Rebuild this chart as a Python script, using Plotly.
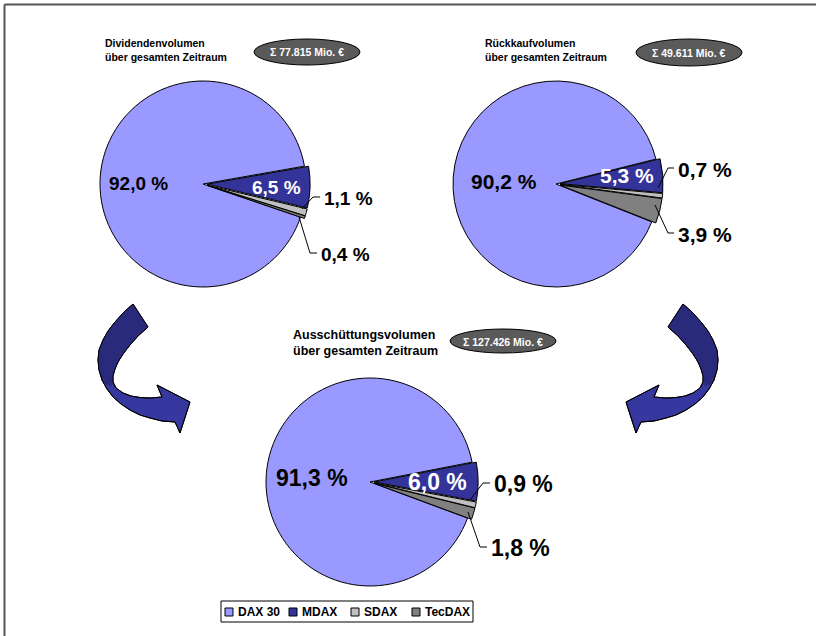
import plotly.graph_objects as go

W, H = 816, 636

# Daten
labels = ["DAX 30", "MDAX", "SDAX", "TecDAX"]
colors = ["#9999FF", "#333399", "#C0C0C0", "#808080"]
dividenden = [92.0, 6.5, 1.1, 0.4]
rueckkauf = [90.2, 5.3, 0.7, 3.9]
ausschuettung = [91.3, 6.0, 0.9, 1.8]
summen = [77815, 49611, 127426]
titel = ["Dividendenvolumen", "Rückkaufvolumen", "Ausschüttungsvolumen"]


def px(x):
    return x / W


def py(y):
    return 1 - y / H


def fmt_pct(v):
    return f"{v:.1f} %".replace(".", ",")


def fmt_sum(v):
    return "Σ " + f"{v:,}".replace(",", ".") + " Mio. €"


PULL = 0.04
# (werte, mittelpunkt x, y, radius, winkel oberkante kleine segmente)
pies = [
    (dividenden, 203, 184, 103, 10),
    (rueckkauf, 556, 184, 103, 14),
    (ausschuettung, 370, 482, 104, 11),
]

fig = go.Figure()
for werte, cx, cy, r, top in pies:
    half = r * (1 + PULL)
    p = werte[0] / sum(werte)
    rot = (90 - top - 360 * p) % 360
    fig.add_trace(go.Pie(
        labels=labels, values=werte, sort=False, direction="clockwise",
        rotation=rot, pull=[0, PULL, PULL, PULL],
        marker=dict(colors=colors, line=dict(color="black", width=1)),
        textinfo="none", hoverinfo="label+percent", showlegend=False,
        domain=dict(x=[px(cx - half), px(cx + half)], y=[py(cy + half), py(cy - half)]),
    ))

annos = []
shapes = []


def text(x, y, s, size, color="black", anchor="center", align="center"):
    annos.append(dict(x=px(x), y=py(y), xref="paper", yref="paper", text=s,
                      showarrow=False, xanchor=anchor, yanchor="middle", align=align,
                      font=dict(family="Arial, Liberation Sans", size=size, color=color)))


def line(pts):
    d = "M " + " L ".join(f"{px(a)},{py(b)}" for a, b in pts)
    shapes.append(dict(type="path", path=d, xref="paper", yref="paper",
                       line=dict(color="black", width=1)))


# Prozentwerte
lab_pos = [
    [(138, 183), (276, 187), (322, 198), (319, 254)],
    [(504, 181), (627, 175), (676, 169), (676, 235)],
    [(312, 478), (437, 482), (492, 484), (489, 548)],
]
sizes = [19, 21, 23]
leaders = [
    [[(302, 209), (313, 197), (320, 197)], [(299, 217), (310, 253), (317, 253)]],
    [[(658, 188), (668, 168), (674, 168)], [(655, 205), (668, 233), (674, 233)]],
    [[(470, 500), (483, 483), (490, 483)], [(468, 512), (480, 547), (487, 547)]],
]
for (werte, *_), pos, sz, lds in zip(pies, lab_pos, sizes, leaders):
    for i, (v, (x, y)) in enumerate(zip(werte, pos)):
        if i < 2:
            text(x, y, f"<b>{fmt_pct(v)}</b>", sz, "white" if i == 1 else "black")
        else:
            text(x, y, f"<b>{fmt_pct(v)}</b>", sz, anchor="left")
    for ld in lds:
        line(ld)

# Titel und Summen-Ellipsen
titles_pos = [(103, 50, 10.5), (483, 50, 10.5), (291, 343, 12.5)]
ell = [(254, 360, 39, 65), (636, 742, 39, 66), (450, 556, 329, 353)]
for t, (tx, ty, ts), s, (x0, x1, y0, y1) in zip(titel, titles_pos, summen, ell):
    text(tx, ty, f"<b>{t}<br>über gesamten Zeitraum</b>", ts, anchor="left", align="left")
    shapes.append(dict(type="circle", xref="paper", yref="paper",
                       x0=px(x0), x1=px(x1), y0=py(y1), y1=py(y0),
                       fillcolor="#5A5A5A", line=dict(color="black", width=1)))
    text((x0 + x1) / 2, (y0 + y1) / 2 + 0.5, f"<b>{fmt_sum(s)}</b>", 10.5, "white")

# Pfeile
outer = [(133, 304), (124, 312), (115, 322), (108, 331), (103, 340), (99, 350), (98, 360),
         (99, 370), (102, 380), (107, 389), (113, 397), (121, 404), (130, 410), (140, 415),
         (150, 418), (162, 421), (175, 422)]
head = [(180, 433), (190, 402), (157, 385), (162, 397)]
inner = [(150, 398), (140, 397.5), (131, 396), (123, 393), (116, 388), (113, 382), (113, 376),
         (115, 369), (118, 362), (123, 354), (130, 345), (138, 336), (148, 327)]
upper = outer[:9] + [(104, 384), (112, 386), (113, 382), (113, 376)] + inner[7:]


def poly(pts, mirror, fill, lw):
    pts = [(W - a if mirror else a, b) for a, b in pts]
    d = "M " + " L ".join(f"{px(a)},{py(b)}" for a, b in pts) + " Z"
    shapes.append(dict(type="path", path=d, xref="paper", yref="paper",
                       fillcolor=fill, line=dict(color="black", width=lw)))


for m in (False, True):
    poly(outer + head + inner, m, "#3737A0", 1)
    poly(upper, m, "#2A2A7C", 0)
    poly(outer + head + inner, m, "rgba(0,0,0,0)", 1)

# Legende
shapes.append(dict(type="rect", xref="paper", yref="paper", x0=px(221), x1=px(473),
                   y0=py(622), y1=py(601), line=dict(color="black", width=1),
                   fillcolor="white"))
leg_x = [225, 289, 351, 412]
for lab, col, lx in zip(labels, colors, leg_x):
    shapes.append(dict(type="rect", xref="paper", yref="paper", x0=px(lx), x1=px(lx + 8),
                       y0=py(616), y1=py(608), fillcolor=col,
                       line=dict(color="black", width=1)))
    text(lx + 11, 612, f"<b>{lab}</b>", 12, anchor="left")

# Rahmen oben und links
shapes.append(dict(type="line", xref="paper", yref="paper", x0=px(4.5), x1=1,
                   y0=py(4.5), y1=py(4.5), line=dict(color="#555555", width=2)))
shapes.append(dict(type="line", xref="paper", yref="paper", x0=px(4.5), x1=px(4.5),
                   y0=py(4.5), y1=0, line=dict(color="#555555", width=2)))

fig.update_layout(
    width=W, height=H, margin=dict(l=0, r=0, t=0, b=0),
    paper_bgcolor="white", plot_bgcolor="white",
    annotations=annos, shapes=shapes, showlegend=False,
)
fig.write_html("out.html", config={"displayModeBar": False},
               post_script="document.body.style.margin='0';")
